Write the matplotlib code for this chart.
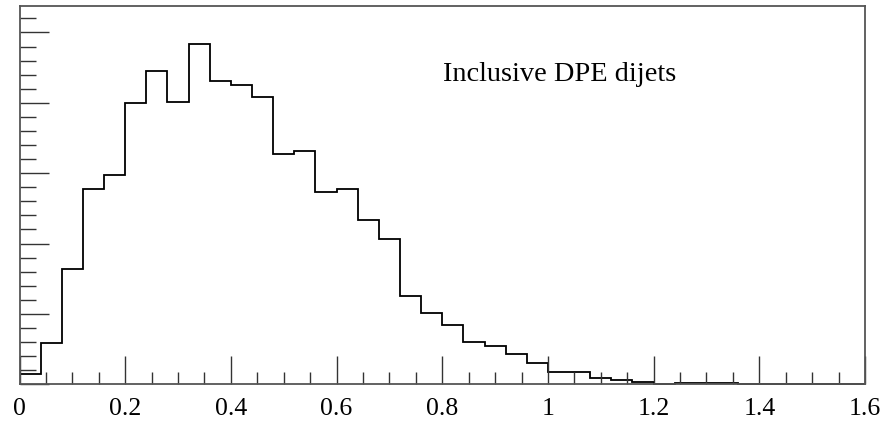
import numpy as np
import matplotlib
matplotlib.use("Agg")
import matplotlib.pyplot as plt
from matplotlib.ticker import MultipleLocator, NullFormatter

# Histogram: bin edges 0 .. 1.6 in steps of 0.04 (40 bins)
bin_width = 0.04
n_bins = 40
counts = [1.47, 5.9, 16.4, 27.8, 29.7, 40.0, 44.5, 40.1, 48.4, 43.1,
          42.6, 40.8, 32.7, 33.1, 27.3, 27.8, 23.3, 20.7, 12.6, 10.1,
          8.4, 6.0, 5.4, 4.3, 3.0, 1.8, 1.8, 0.95, 0.62, 0.28,
          0.0, 0.14, 0.14, 0.14, 0.0, 0.0, 0.0, 0.0, 0.0, 0.0]
edges = np.arange(n_bins + 1) * bin_width

x_ticks = [0, 0.2, 0.4, 0.6, 0.8, 1, 1.2, 1.4, 1.6]
x_tick_labels = ["0", "0.2", "0.4", "0.6", "0.8", "1", "1.2", "1.4", "1.6"]
label_text = "Inclusive DPE dijets"

plt.rcParams['font.family'] = ['Liberation Serif', 'DejaVu Serif']

fig = plt.figure(figsize=(8.95, 4.22), dpi=100)
ax = fig.add_axes([19.5 / 895, (422 - 384.3) / 422, (865 - 19.5) / 895, (384.3 - 5.7) / 422])

ax.stairs(counts, edges, baseline=None, color="black", linewidth=1.3, clip_on=False)

ax.set_xlim(0, 1.6)
ax.set_ylim(0, 53.8)

ax.set_xticks(x_ticks)
ax.set_xticklabels(x_tick_labels, fontsize=18.5)
ax.xaxis.set_minor_locator(MultipleLocator(0.05))
ax.yaxis.set_major_locator(MultipleLocator(10))
ax.yaxis.set_minor_locator(MultipleLocator(2))
ax.yaxis.set_major_formatter(NullFormatter())

ax.tick_params(axis="x", which="major", direction="in", length=20, width=1.0,
               color="#333333", pad=10, top=False)
ax.tick_params(axis="x", which="minor", direction="in", length=9, width=1.0,
               color="#333333", top=False)
ax.tick_params(axis="y", which="major", direction="in", length=21, width=1.0,
               color="#333333", right=False)
ax.tick_params(axis="y", which="minor", direction="in", length=11.5, width=1.0,
               color="#333333", right=False)

for s in ax.spines.values():
    s.set_color("#555555")
    s.set_linewidth(1.3)

ax.text(0.801, 43.1, label_text, fontsize=20.4, ha="left", va="baseline")

fig.savefig("out.png", dpi=100)
